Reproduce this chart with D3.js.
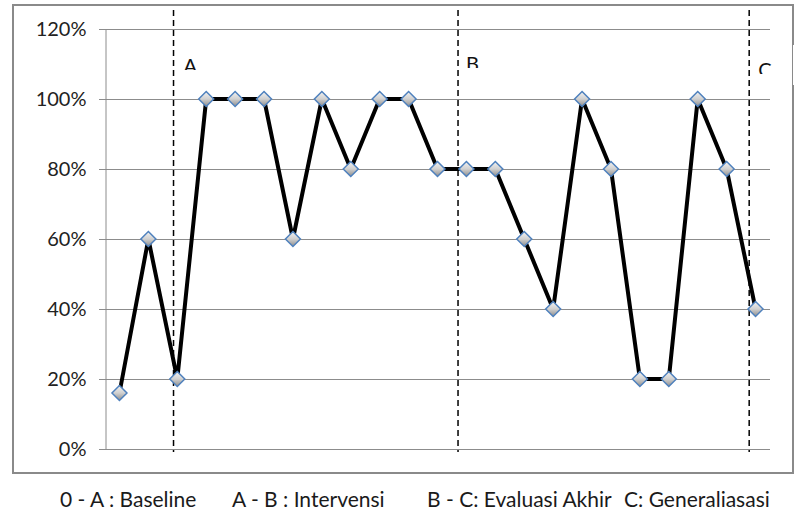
<!DOCTYPE html>
<html>
<head>
<meta charset="utf-8">
<script src="https://cdn.jsdelivr.net/npm/d3@7"></script>
<style>
  body { margin: 0; background: #fff; }
  svg { display: block; font-family: Lato, "Open Sans", sans-serif; }
</style>
</head>
<body>
<div id="chart"></div>
<script>
// session number 1..23 and score (%)
var sessions = d3.range(1, 24);
var scores = [16, 60, 20, 100, 100, 100, 60, 100, 80, 100, 100, 80, 80, 80, 60, 40, 100, 80, 20, 20, 100, 80, 40];
var yTicks = [0, 20, 40, 60, 80, 100, 120];
// phase boundaries, in session units from the left edge
var phaseLines = [2.37, 12.21, 22.28];
var phaseNames = ["A", "B", "C"];
var legendItems = ["0 - A : Baseline", "A - B : Intervensi", "B - C: Evaluasi Akhir", "C: Generaliasasi"];

function init(){
    var w = 807, h = 514;
    var left = 105, right = 770, top = 29, bottom = 449;

    var svg = d3.select("#chart").append("svg")
        .attr("width", w).attr("height", h);

    var defs = svg.append("defs");
    var grad = defs.append("linearGradient").attr("id", "mk")
        .attr("x1", 0).attr("y1", 0).attr("x2", 0).attr("y2", 1);
    grad.append("stop").attr("offset", "0%").attr("stop-color", "#f2f2f2");
    grad.append("stop").attr("offset", "50%").attr("stop-color", "#d0d0d0");
    grad.append("stop").attr("offset", "100%").attr("stop-color", "#8c8c8c");

    // outer frame
    svg.append("rect")
        .attr("x", 13).attr("y", 5).attr("width", 780).attr("height", 468)
        .attr("fill", "none").attr("stroke", "#8a8a8a").attr("stroke-width", 2);

    var x = d3.scaleLinear().domain([0, sessions.length]).range([left, right]);
    var y = d3.scaleLinear().domain([0, 120]).range([bottom, top]);

    // gridlines
    svg.append("g").selectAll("line")
        .data(yTicks)
        .enter().append("line")
        .attr("x1", left - 6).attr("x2", right)
        .attr("y1", function(d) { return y(d) + 0.5; })
        .attr("y2", function(d) { return y(d) + 0.5; })
        .attr("stroke", "#8c8c8c").attr("stroke-width", 1);

    var yAxis = d3.axisLeft(y).tickValues(yTicks)
        .tickSize(0).tickPadding(19)
        .tickFormat(function(d) { return d + "%"; });
    var ga = svg.append("g")
        .attr("transform", "translate(" + (left + 0.5) + ",0.5)")
        .call(yAxis);
    ga.select(".domain").attr("stroke", "#8c8c8c");
    ga.selectAll("text").attr("font-size", 20).attr("fill", "#222")
        .attr("font-family", "Lato, sans-serif");

    // phase dashed lines
    svg.append("g").selectAll("line")
        .data(phaseLines)
        .enter().append("line")
        .attr("x1", function(d) { return x(d); })
        .attr("x2", function(d) { return x(d); })
        .attr("y1", 10).attr("y2", 452)
        .attr("stroke", "#000").attr("stroke-width", 1.5)
        .attr("stroke-dasharray", "6,4");

    // phase labels (clipped like the original text boxes)
    var clipBottoms = [70, 68, 74];
    var labelDx = [10, 8, 9];
    phaseLines.forEach(function(d, i) {
        defs.append("clipPath").attr("id", "cl" + i)
            .append("rect").attr("x", x(d) + 2).attr("y", 40)
            .attr("width", 40).attr("height", clipBottoms[i] - 40);
    });
    svg.append("rect").attr("x", 793).attr("y", 45).attr("width", 14).attr("height", 40)
        .attr("fill", "#fff");
    svg.append("g").selectAll("text")
        .data(phaseLines)
        .enter().append("text")
        .attr("clip-path", function(d, i) { return "url(#cl" + i + ")"; })
        .attr("x", function(d, i) { return x(d) + labelDx[i]; })
        .attr("y", function(d, i) { return clipBottoms[i] + 2.5; })
        .attr("font-size", 20).attr("fill", "#111")
        .text(function(d, i) { return phaseNames[i]; });

    // data line
    var line = d3.line()
        .x(function(d, i) { return x(i + 0.5); })
        .y(function(d) { return y(d); });
    svg.append("path").datum(scores)
        .attr("d", line)
        .attr("fill", "none").attr("stroke", "#000")
        .attr("stroke-width", 4).attr("stroke-linejoin", "round");

    svg.append("g").selectAll("path")
        .data(scores)
        .enter().append("path")
        .attr("transform", function(d, i) { return "translate(" + x(i + 0.5) + "," + y(d) + ")"; })
        .attr("d", "M0,-7.5L7.5,0L0,7.5L-7.5,0Z")
        .attr("fill", "url(#mk)").attr("stroke", "#4f81bd").attr("stroke-width", 1.5);

    // legend text
    var legendX = [60, 232, 427, 624];
    svg.append("g").selectAll("text")
        .data(legendItems)
        .enter().append("text")
        .attr("x", function(d, i) { return legendX[i]; })
        .attr("y", 507)
        .attr("font-size", 21).attr("fill", "#1a1a1a")
        .text(function(d) { return d; });
}
window.onload = init;
</script>
</body>
</html>
